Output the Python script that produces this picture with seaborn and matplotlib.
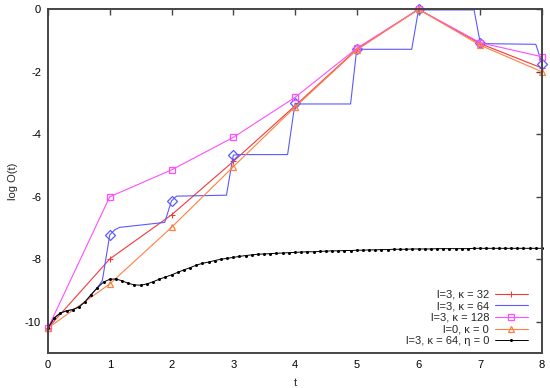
import matplotlib
matplotlib.use("Agg")
import matplotlib.pyplot as plt
import seaborn as sns
import numpy as np

# ---- data ----
t_int = [0, 1, 2, 3, 4, 5, 6, 7, 8]
red_k32 = [-10.2, -7.99, -6.58, -4.87, -3.09, -1.28, 0.0, -1.1, -1.88]
magenta_k128 = [-10.2, -6.0, -5.14, -4.1, -2.82, -1.25, 0.0, -1.07, -1.52]
orange_k0 = [-10.2, -8.79, -6.98, -5.04, -3.13, -1.3, 0.0, -1.15, -2.0]

blue_t = [0.0, 0.1, 0.2, 0.3, 0.4, 0.5, 0.6, 0.7, 0.8, 0.88, 1.0, 1.08, 1.16, 1.89,
          2.0, 2.08, 2.89, 3.0, 3.08, 3.88, 4.0, 4.08, 4.9, 5.0, 5.08, 5.89,
          6.0, 6.9, 7.0, 7.08, 7.9, 8.0]
blue_k64 = [-10.2, -9.88, -9.72, -9.65, -9.61, -9.53, -9.36, -9.13, -8.91, -8.68,
            -7.22, -7.06, -6.98, -6.82, -6.13, -5.98, -5.95, -4.67, -4.65, -4.65,
            -3.01, -3.03, -3.03, -1.27, -1.28, -1.28, -0.02, -0.02, -1.08, -1.1,
            -1.12, -1.74]
blue_diamond_t = [1, 2, 3, 4, 5, 6, 7, 8]
blue_diamond_y = [-7.22, -6.13, -4.67, -3.01, -1.27, 0.0, -1.08, -1.74]

black_t = [round(0.1 * i, 1) for i in range(81)]
black_eta0 = [-10.20, -9.88, -9.72, -9.65, -9.61, -9.53, -9.36, -9.13, -8.91, -8.73,
              -8.64, -8.63, -8.69, -8.77, -8.82, -8.83, -8.79, -8.72, -8.64, -8.57,
              -8.50, -8.42, -8.34, -8.27, -8.19, -8.13, -8.09, -8.04, -8.00, -7.97,
              -7.94, -7.91, -7.88, -7.86, -7.84, -7.83, -7.82, -7.81, -7.80, -7.79,
              -7.78, -7.77, -7.76, -7.76, -7.75, -7.74, -7.73, -7.73, -7.72, -7.72,
              -7.71, -7.71, -7.70, -7.70, -7.69, -7.69, -7.68, -7.68, -7.68, -7.67,
              -7.67, -7.67, -7.67, -7.66, -7.66, -7.66, -7.66, -7.66, -7.66, -7.65,
              -7.65, -7.65, -7.65, -7.65, -7.65, -7.65, -7.65, -7.65, -7.65, -7.65,
              -7.65]

labels = ["l=3, κ = 32", "l=3, κ = 64", "l=3, κ = 128", "l=0, κ = 0", "l=3, κ = 64, η = 0"]
xticks = [0, 1, 2, 3, 4, 5, 6, 7, 8]
yticks = [0, -2, -4, -6, -8, -10]

# ---- style ----
sns.set_style("white")
plt.rcParams['font.family'] = ['Liberation Sans', 'DejaVu Sans']

fig = plt.figure(figsize=(5.5, 3.88), dpi=100)
ax = fig.add_axes([48 / 550, 35 / 388, 494 / 550, 343.7 / 388])

c_red = "#f03a3a"
c_blue = "#5a5aff"
c_mag = "#ff4dff"
c_orange = "#ff8040"

lw = 0.8
sns.lineplot(x=t_int, y=red_k32, ax=ax, color=c_red, lw=lw, marker="+", markersize=5,
             markeredgecolor=c_red, markeredgewidth=0.75, label=labels[0],
             sort=False, estimator=None, clip_on=False)
sns.lineplot(x=blue_t, y=blue_k64, ax=ax, color=c_blue, lw=lw, label=labels[1],
             sort=False, estimator=None, clip_on=False)
ax.plot(blue_diamond_t, blue_diamond_y, ls="none", marker="D", markersize=5,
        markerfacecolor="none", markeredgecolor=c_blue, markeredgewidth=0.9, clip_on=False)
sns.lineplot(x=t_int, y=magenta_k128, ax=ax, color=c_mag, lw=lw, marker="s", markersize=5,
             markerfacecolor="none", markeredgecolor=c_mag, markeredgewidth=0.9,
             label=labels[2], sort=False, estimator=None, clip_on=False)
sns.lineplot(x=t_int, y=orange_k0, ax=ax, color=c_orange, lw=lw, marker="^", markersize=5,
             markerfacecolor="none", markeredgecolor=c_orange, markeredgewidth=0.9,
             label=labels[3], sort=False, estimator=None, clip_on=False)
sns.lineplot(x=black_t, y=black_eta0, ax=ax, color="black", lw=0.7, marker="o", markersize=2.2,
             markeredgewidth=0, markerfacecolor="black", label=labels[4],
             sort=False, estimator=None, clip_on=False)

ax.set_xlim(0, 8)
ax.set_ylim(-11, 0)
ax.set_xticks(xticks)
ax.set_yticks(yticks)
ax.set_xticklabels([str(v) for v in xticks])
ax.set_yticklabels([str(v) for v in yticks])
ax.tick_params(direction="in", length=4.5, width=1.0, color="#444444", labelsize=8,
               top=True, right=True, pad=5, labelcolor="black")
for s in ax.spines.values():
    s.set_color("#444444")
    s.set_linewidth(1.4)
    s.set_visible(True)

ax.set_xlabel("t", fontsize=8, labelpad=6)
ax.set_ylabel("log O(t)", fontsize=8, labelpad=5)

leg = ax.legend(loc="lower right", frameon=False, markerfirst=False, fontsize=8,
                handlelength=3.0, handletextpad=0.5, labelspacing=0.15,
                borderaxespad=0.2, numpoints=1, bbox_to_anchor=(0.985, 0.0))

fig.savefig("out.png", dpi=100)
